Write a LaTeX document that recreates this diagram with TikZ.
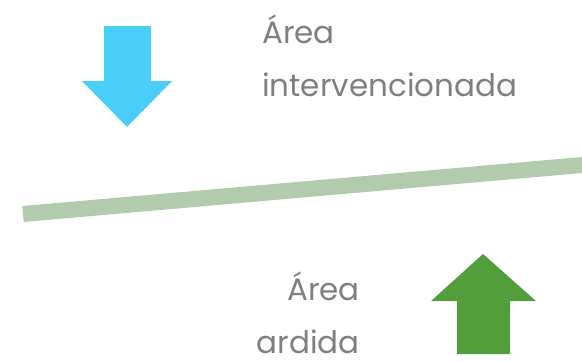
\documentclass[tikz,border=0pt]{standalone}
\usepackage{fontspec}
\setmainfont{Poppins}
\definecolor{skyblue}{HTML}{48CEF8}
\definecolor{leafgreen}{HTML}{529E3A}
\definecolor{palegreen}{HTML}{B2CBAD}
\definecolor{labelgray}{HTML}{7F7F7F}
\begin{document}
\begin{tikzpicture}[
        x=1pt, y=-1pt, % pixel units, y downwards
        arealabel/.style={text=labelgray, font=\fontsize{31}{53}\selectfont, inner sep=0pt},
        border/.style={line width=16pt, color=palegreen},
    ]
    \useasboundingbox (0,0) rectangle (582,362);

    % arrow down
    \fill[skyblue] (104,26) -- (151,26) -- (151,81) -- (172,81) -- (127,127)
        -- (82,81) -- (104,81) -- cycle;
    % arrow up
    \fill[leafgreen] (457,354) -- (510,354) -- (510,301) -- (536,301) -- (483,254)
        -- (431,301) -- (457,301) -- cycle;

    % dividing line
    \coordinate (west) at (23,214);
    \coordinate (east) at (590,164.3);
    \draw[border] (west) -- (east);

    % base anchor sits on the last line
    \node[arealabel, anchor=base west, align=left] (intervened) at (262,96) {Área\\intervencionada};
    \node[arealabel, anchor=base east, align=right] (burnt) at (360,353) {Área\\ardida};
\end{tikzpicture}
\end{document}
